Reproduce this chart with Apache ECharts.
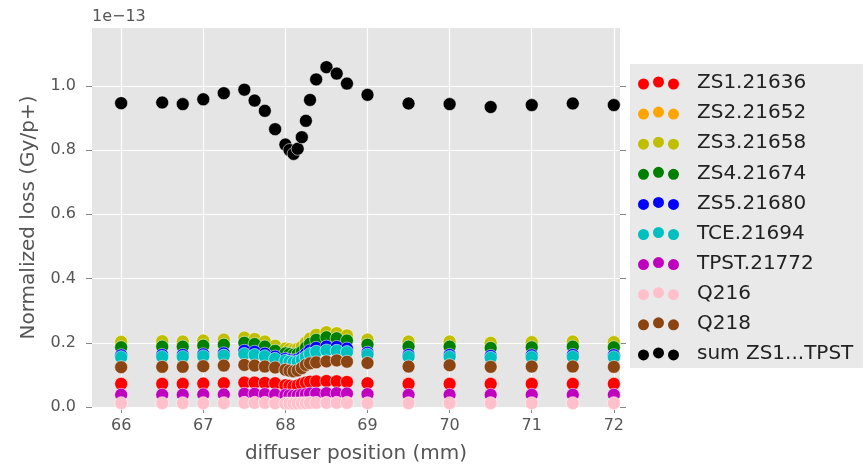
<!DOCTYPE html>
<html lang="en">
<head>
<meta charset="UTF-8">
<title>diffuser scan</title>
<script src="https://cdn.jsdelivr.net/npm/echarts@6.0.0/dist/echarts.min.js"></script>
<style>
    html, body { margin: 0; padding: 0; background: #fff; }
    #main { width: 867px; height: 465px; }
</style>
</head>
<body>
<div id="main"></div>
<script>
    // diffuser positions (mm)
    var positions = [66, 66.5, 66.75, 67, 67.25, 67.5, 67.625, 67.75, 67.875, 68, 68.05, 68.1, 68.15, 68.2,
        68.25, 68.3, 68.375, 68.5, 68.625, 68.75, 69, 69.5, 70, 70.5, 71, 71.5, 72];

    // normalized loss, units of 1e-13 Gy/p+
    var zs1 = [0.072, 0.072, 0.072, 0.073, 0.074, 0.076, 0.076, 0.075, 0.074, 0.068, 0.066, 0.064, 0.067, 0.072,
        0.076, 0.079, 0.080, 0.081, 0.080, 0.078, 0.074, 0.072, 0.072, 0.072, 0.072, 0.072, 0.072];
    var zs2 = [0.199, 0.201, 0.200, 0.203, 0.206, 0.212, 0.208, 0.200, 0.187, 0.178, 0.176, 0.174, 0.177, 0.184,
        0.197, 0.209, 0.221, 0.229, 0.226, 0.219, 0.206, 0.200, 0.200, 0.196, 0.198, 0.200, 0.198];
    var zs3 = [0.203, 0.205, 0.204, 0.207, 0.210, 0.216, 0.212, 0.204, 0.191, 0.182, 0.180, 0.178, 0.181, 0.188,
        0.201, 0.213, 0.225, 0.233, 0.230, 0.223, 0.210, 0.204, 0.204, 0.200, 0.202, 0.204, 0.202];
    var zs4 = [0.186, 0.188, 0.188, 0.191, 0.194, 0.200, 0.196, 0.188, 0.175, 0.167, 0.165, 0.163, 0.165, 0.172,
        0.185, 0.197, 0.209, 0.217, 0.214, 0.207, 0.194, 0.188, 0.188, 0.184, 0.186, 0.188, 0.186];
    var zs5 = [0.161, 0.162, 0.162, 0.164, 0.167, 0.175, 0.172, 0.166, 0.157, 0.150, 0.147, 0.145, 0.148, 0.155,
        0.165, 0.176, 0.184, 0.188, 0.187, 0.182, 0.169, 0.162, 0.162, 0.159, 0.161, 0.162, 0.161];
    var tce = [0.155, 0.156, 0.156, 0.158, 0.160, 0.165, 0.162, 0.158, 0.150, 0.144, 0.141, 0.139, 0.141, 0.147,
        0.156, 0.165, 0.172, 0.176, 0.175, 0.171, 0.163, 0.156, 0.156, 0.153, 0.155, 0.156, 0.155];
    var tpst = [0.038, 0.038, 0.038, 0.039, 0.039, 0.041, 0.041, 0.040, 0.039, 0.037, 0.036, 0.035, 0.036, 0.038,
        0.040, 0.042, 0.042, 0.043, 0.043, 0.042, 0.040, 0.038, 0.038, 0.038, 0.038, 0.038, 0.038];
    var q216 = [0.012, 0.012, 0.012, 0.012, 0.012, 0.013, 0.013, 0.013, 0.012, 0.011, 0.011, 0.011, 0.011, 0.012,
        0.012, 0.013, 0.013, 0.013, 0.013, 0.013, 0.012, 0.012, 0.012, 0.012, 0.012, 0.012, 0.012];
    var q218 = [0.124, 0.125, 0.125, 0.127, 0.129, 0.131, 0.129, 0.126, 0.123, 0.116, 0.113, 0.111, 0.114, 0.121,
        0.131, 0.136, 0.139, 0.142, 0.145, 0.141, 0.137, 0.126, 0.130, 0.125, 0.126, 0.126, 0.125];
    var sumZs = [0.946, 0.948, 0.943, 0.958, 0.977, 0.988, 0.954, 0.922, 0.865, 0.817, 0.800, 0.788, 0.804, 0.840,
        0.891, 0.956, 1.020, 1.058, 1.038, 1.007, 0.972, 0.945, 0.943, 0.934, 0.940, 0.945, 0.940];

    var names = ['ZS1.21636', 'ZS2.21652', 'ZS3.21658', 'ZS4.21674', 'ZS5.21680', 'TCE.21694', 'TPST.21772',
        'Q216', 'Q218', 'sum ZS1...TPST'];
    var colors = ['#ff0000', '#ffa500', '#bfbf00', '#008000', '#0000ff', '#00bfbf', '#bf00bf', '#ffc0cb',
        '#8b4513', '#000000'];
    var values = [zs1, zs2, zs3, zs4, zs5, tce, tpst, q216, q218, sumZs];

    var xTicks = [66, 67, 68, 69, 70, 71, 72];
    var yTicks = [0, 0.2, 0.4, 0.6, 0.8, 1.0];

    // three dots like matplotlib scatter legend
    var dots = 'path://M0 7a5.5 5.5 0 1 0 11 0a5.5 5.5 0 1 0 -11 0Z' +
        'M15 5a5.5 5.5 0 1 0 11 0a5.5 5.5 0 1 0 -11 0Z' +
        'M30 7a5.5 5.5 0 1 0 11 0a5.5 5.5 0 1 0 -11 0Z';

    var font = 'DejaVu Sans';
    var tickColor = '#888';

    var series = names.map(function(n, i) {
        return {
            name: n,
            type: 'scatter',
            symbolSize: 13,
            itemStyle: {
                color: colors[i],
                opacity: 1,
                borderColor: 'rgba(255,255,255,0.55)',
                borderWidth: 1
            },
            data: positions.map(function(p, j) {
                return [p, values[i][j]];
            })
        };
    });

    var myChart = echarts.init(document.getElementById('main'));
    myChart.setOption({
        animation: false,
        title: {
            text: '1e\u221213',
            left: 92,
            top: 9,
            padding: 0,
            textStyle: { fontFamily: font, fontSize: 16, fontWeight: 'normal', color: '#555' }
        },
        graphic: [{
            type: 'rect',
            shape: { x: 630, y: 64, width: 233, height: 304 },
            style: { fill: '#e9e9e9' },
            z: 0
        }],
        legend: {
            data: names,
            orient: 'vertical',
            left: 630,
            top: 65,
            padding: [8, 8, 8, 8],
            itemWidth: 41,
            itemHeight: 13,
            itemGap: 10.1,
            icon: dots,
            itemStyle: { borderWidth: 0, opacity: 1 },
            textStyle: { fontFamily: font, fontSize: 20, color: '#222', padding: [0, 0, 0, 13] }
        },
        grid: {
            left: 92,
            top: 28,
            width: 528,
            height: 379,
            outerBoundsMode: 'none',
            containLabel: false,
            show: true,
            backgroundColor: '#e5e5e5',
            borderWidth: 0
        },
        xAxis: [{
            type: 'value',
            min: 65.645,
            max: 72.075,
            position: 'bottom',
            name: 'diffuser position (mm)',
            nameLocation: 'middle',
            nameGap: 37,
            nameTextStyle: { fontFamily: font, fontSize: 20, color: '#555' },
            axisLine: { show: false },
            axisTick: { show: true, length: 6, customValues: xTicks, lineStyle: { color: tickColor } },
            axisLabel: { customValues: xTicks, margin: 11, fontFamily: font, fontSize: 16, color: '#555' },
            splitLine: { show: true, lineStyle: { color: '#fff', width: 1.2 } }
        }, {
            type: 'value',
            min: 65.645,
            max: 72.075,
            position: 'top',
            axisLine: { show: false },
            axisTick: { show: true, length: 6, customValues: xTicks, lineStyle: { color: tickColor } },
            axisLabel: { show: false },
            splitLine: { show: false }
        }],
        yAxis: [{
            type: 'value',
            min: 0,
            max: 1.18,
            position: 'left',
            name: 'Normalized loss (Gy/p+)',
            nameLocation: 'middle',
            nameGap: 53,
            nameTextStyle: { fontFamily: font, fontSize: 20, color: '#555' },
            axisLine: { show: false },
            axisTick: { show: true, length: 6, customValues: yTicks, lineStyle: { color: tickColor } },
            axisLabel: {
                customValues: yTicks,
                margin: 16,
                fontFamily: font,
                fontSize: 16,
                color: '#555',
                formatter: function(v) { return v.toFixed(1); }
            },
            splitLine: { show: true, lineStyle: { color: '#fff', width: 1.2 } }
        }, {
            type: 'value',
            min: 0,
            max: 1.18,
            position: 'right',
            axisLine: { show: false },
            axisTick: { show: true, length: 6, customValues: yTicks, lineStyle: { color: tickColor } },
            axisLabel: { show: false },
            splitLine: { show: false }
        }],
        series: series
    });
</script>
</body>
</html>
